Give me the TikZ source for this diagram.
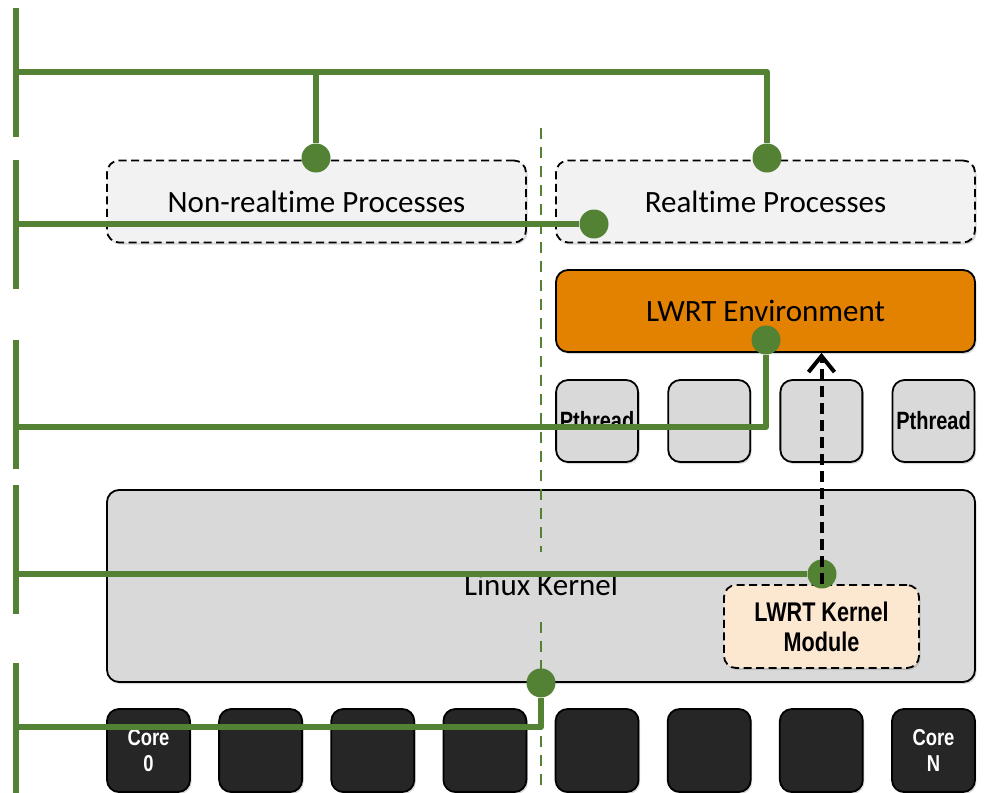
\documentclass[tikz,border=0pt]{standalone}
\usepackage{fontspec}
\setmainfont{Carlito}[Ligatures=NoCommon]
\newfontfamily\narrowsf[FakeStretch=0.8]{Liberation Sans}
\usetikzlibrary{arrows.meta,shadows}
\definecolor{lwgreen}{HTML}{548235}
\definecolor{procgray}{HTML}{F2F2F2}
\definecolor{kgray}{HTML}{D9D9D9}
\definecolor{coregray}{HTML}{262626}
\definecolor{envorange}{HTML}{E38200}
\definecolor{modpeach}{HTML}{FCE8D0}
\begin{document}
\begin{tikzpicture}[x=1pt,y=-1pt,
	box/.style={draw=black, line width=1.8pt, rounded corners=12pt, inner sep=0pt,
		drop shadow={shadow xshift=1.5pt, shadow yshift=-2pt, opacity=0.3}},
	dashbox/.style={box, dash pattern=on 8pt off 4.5pt},
	bigfont/.style={font=\fontsize{31}{35}\selectfont},
	proc/.style={dashbox, fill=procgray, minimum width=419pt, minimum height=82pt, bigfont},
	thread/.style={box, fill=kgray, minimum width=82pt, minimum height=82pt,
		font=\narrowsf\bfseries\fontsize{25}{28}\selectfont},
	core/.style={box, fill=coregray, text=white, minimum width=83pt, minimum height=83pt, align=center,
		font=\narrowsf\bfseries\fontsize{23}{26}\selectfont},
	gline/.style={lwgreen, line width=6pt, line join=round},
	gdot/.style={circle, fill=lwgreen, minimum size=29pt, inner sep=0pt}]
	\useasboundingbox (0,0) rectangle (986,793);
	
	\node[proc] (nrt) at (316.5,201.5) {Non-realtime Processes};
	\node[proc] (rt) at (765.5,201.5) {Realtime Processes};
	\node[box, fill=envorange, minimum width=419pt, minimum height=82pt, bigfont] (lwrt) at (765.5,311) {LWRT Environment};
	\foreach \i/\txt in {0/Pthread,1/,2/,3/Pthread}
		\node[thread] (p\i) at ({597.1+112.14*\i},421) {\txt};
	\node[box, fill=kgray, minimum width=868pt, minimum height=192pt] (kernel) at (541,586) {};
	\foreach \i/\txt in {0/Core\\0,1/,2/,3/,4/,5/,6/,7/Core\\N}
		\node[core] (c\i) at ({148.5+112.14*\i},750.5) {\txt};
	
	\draw[lwgreen, line width=2.5pt, dash pattern=on 11pt off 8pt] (541,128) -- (541,793);
	\node[fill=kgray, minimum height=66pt, inner sep=3pt, bigfont] (klabel) at (541,585) {Linux Kernel};
	\node[dashbox, fill=modpeach, minimum width=195pt, minimum height=83pt, align=center,
		font=\narrowsf\bfseries\fontsize{27}{30}\selectfont] (kmod) at (821.5,626.5) {LWRT Kernel\\Module};
	
	\foreach \a/\b in {8/137,160/289,340/469,485/614,663/793}
		\draw[gline] (16,\a) -- (16,\b);
	\coordinate (t1) at (16,72);
	\coordinate (t2) at (16,224);
	\coordinate (t3) at (16,427);
	\coordinate (t4) at (16,574);
	\coordinate (t5) at (16,727);
	
	\node[gdot] (nrtdot) at (316,158) {};
	\node[gdot] (rtdot) at (767,158) {};
	\node[gdot] (rtdot2) at (594,224) {};
	\node[gdot] (envdot) at (766,340) {};
	\node[gdot] (kdot) at (822,574) {};
	\node[gdot] (cdot) at (kernel.south) {};
	
	\draw[gline] (t1) -| (rtdot);
	\draw[gline] (nrtdot) -- (nrtdot |- t1);
	\draw[gline] (t2) -- (rtdot2);
	\draw[gline] (envdot) |- (t3);
	\draw[gline] (t4) -- (kdot);
	\draw[gline] (cdot) |- (t5);
	
	\draw[line width=4pt, dash pattern=on 11pt off 6pt, -{Straight Barb[length=16pt,width=26pt]}]
		(kmod.north) -- (kmod.north |- lwrt.south);
\end{tikzpicture}
\end{document}
